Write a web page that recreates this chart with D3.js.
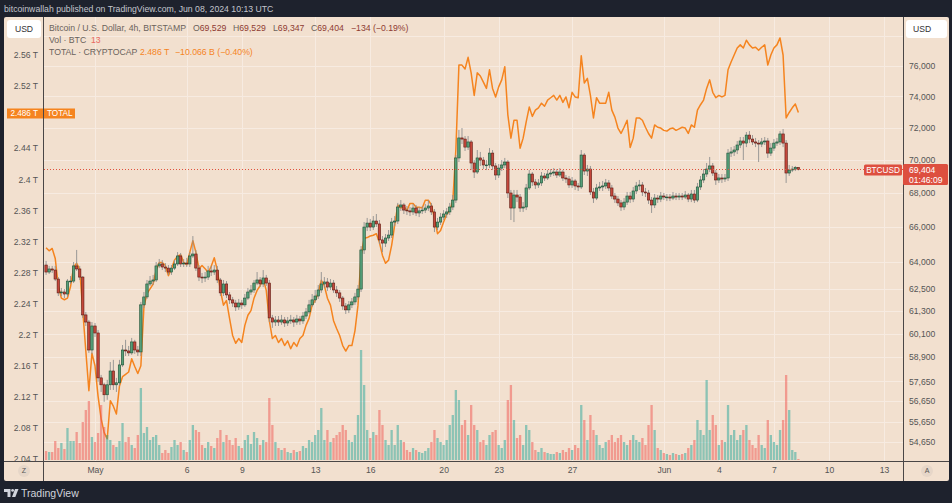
<!DOCTYPE html>
<html><head><meta charset="utf-8">
<script src="https://cdn.jsdelivr.net/npm/d3@7"></script>
<style>
html,body{margin:0;padding:0;background:#1e222d;overflow:hidden;}
svg{display:block;font-family:"Liberation Sans",Arial,sans-serif;}
</style></head><body>
<svg id="c" width="952" height="503"></svg>
<script>
// ---------- DATA ----------
const startTime = Date.UTC(2024, 3, 28, 8); // first 4h candle: Apr 28 08:00 UTC
const candleHours = 4;
const btcOpen0 = 63830;
const btcClose = [
 63440,63610,63550,63050,
 62290,62340,62230,62940,62940,63780,
 63610,63160,61100,60720,59250,60510,
 60140,57820,57470,56970,57470,58170,
 57470,57570,58480,59250,59200,59100,
 59670,59250,59150,61640,62070,62780,
 62940,63000,63780,63890,63720,63660,
 63440,63660,63890,64340,63890,63940,
 63890,64340,64450,63660,63160,63110,
 63160,63500,63440,63550,63000,62290,
 62780,62180,61910,61740,61530,61740,
 61640,62010,62340,62450,62830,63000,
 62780,63110,62830,60940,60720,60830,
 60720,60830,60670,60780,60830,60720,
 60880,60780,61040,61260,61640,61910,
 62120,62450,62780,62890,62610,62830,
 62450,62290,62010,61580,61370,61640,
 61800,62070,62500,64680,65990,66220,
 65990,66340,66170,65250,65070,65360,
 65530,66280,66340,67160,67280,66980,
 66930,66870,67100,66810,66930,66980,
 67100,67220,66870,65990,66280,66570,
 66750,66870,67160,67570,70110,71350,
 71280,70780,71100,69800,69250,70110,
 69980,69680,69680,70410,69620,69070,
 69490,69680,69860,67990,67100,67870,
 67750,67100,67160,68290,69130,68650,
 68470,68590,69010,68890,69130,69190,
 69250,69070,69250,68890,68830,68470,
 68710,68410,68350,70290,69310,69430,
 68050,67690,68290,68350,68410,68590,
 68290,67810,67630,67400,67160,67450,
 67810,67630,68110,68410,68470,68050,
 67990,67570,67280,67690,67630,67810,
 67750,67750,67690,67810,67750,67810,
 67750,67870,67630,67930,67570,68350,
 68770,69130,69430,69620,69190,68770,
 68890,68830,68890,70410,70480,70600,
 70910,71160,71030,71530,71280,71100,
 71030,70970,71100,71160,70410,70720,
 71030,71100,71600,71030,69190,69370,
 69430,69529,69404
];
const btcHigh = [
 64060,63780,63780,63780,
 63160,62560,62500,63050,63220,64000,
 64680,63780,63220,61260,60830,60720,
 60670,60300,57970,57570,57720,58630,
 58740,57820,58740,59510,59780,59460,
 59880,59780,59460,61800,62340,63000,
 63220,63280,64000,64170,64110,63940,
 63830,63830,64110,64560,64510,64170,
 64230,64560,65470,64680,63830,63390,
 63440,63780,63780,63830,63780,63110,
 63000,62940,62340,62070,61910,61960,
 61910,62230,62560,62720,63000,63440,
 63160,63550,63280,63000,61100,61040,
 61040,61100,60990,60990,61100,60990,
 61100,61040,61260,61470,61910,62230,
 62450,62720,63440,63160,63110,63050,
 63000,62670,62450,62120,61740,61850,
 62010,62290,62720,64900,66280,66520,
 66460,66630,66750,66400,65470,65590,
 65820,66520,66630,67400,67570,67400,
 67220,67160,67340,67280,67160,67220,
 67340,67570,67400,67040,66520,66810,
 66980,67100,67400,67870,70290,71850,
 71970,71470,71470,71220,69980,70600,
 70480,70170,69980,70720,70600,69800,
 69740,69980,70110,69980,68170,68170,
 68170,67930,67450,68530,69370,69250,
 68830,68830,69250,69190,69370,69430,
 69490,69430,69490,69370,69070,69010,
 68950,68830,68590,70600,70410,69680,
 69620,68290,68530,68650,68710,68830,
 68770,68470,67990,67810,67570,67690,
 68050,68050,68350,68650,68770,68650,
 68290,68170,67750,67930,67870,68050,
 67990,67930,67930,68050,67990,67990,
 67990,68110,67990,68170,68170,68590,
 69010,69430,69800,70170,69800,69370,
 69130,69130,69130,70660,70780,70850,
 71160,71410,71410,71720,71780,71530,
 71350,71220,71350,71410,71350,71030,
 71280,71350,71780,71910,71220,69680,
 69620,69620,69529
];
const btcLow = [
 63280,63330,63390,62940,
 62120,62120,62010,62070,62780,62830,
 63500,63000,60940,60510,59100,59050,
 59930,57620,57110,56620,56720,57210,
 57210,57110,57420,58380,58940,58940,
 59000,59050,58940,58940,61470,61960,
 62670,62720,62890,63660,63550,63440,
 63280,63280,63550,63780,63720,63720,
 63720,63720,64230,63500,62940,62830,
 62890,63000,63220,63280,62830,62120,
 62120,62010,61690,61530,61310,61370,
 61420,61530,61910,62180,62290,62720,
 62610,62610,62670,60720,60410,60510,
 60510,60570,60460,60510,60620,60460,
 60570,60570,60620,60880,61150,61530,
 61740,61960,62290,62560,62400,62450,
 62290,62070,61800,61370,61150,61200,
 61470,61640,61910,62340,64450,65760,
 65760,65820,65990,65020,64560,64850,
 65190,65360,66050,66170,66930,66750,
 66690,66630,66690,66630,66570,66750,
 66810,66930,66690,65700,65820,66110,
 66400,66520,66690,66980,67400,69860,
 70970,70540,70600,69370,68890,69130,
 69620,69430,69370,69490,69370,68770,
 68890,69310,69490,67690,66400,66280,
 67450,66870,66870,66980,68170,68410,
 68230,68290,68410,68710,68770,68950,
 69010,68890,68950,68710,68590,68290,
 68290,68170,68110,68230,69070,69010,
 67870,67400,67570,68110,68110,68230,
 68110,67630,67400,67220,66930,66980,
 67280,67400,67450,67930,68170,67810,
 67750,67340,66810,67100,67400,67450,
 67570,67510,67510,67570,67570,67570,
 67570,67630,67450,67450,67400,67450,
 68170,68590,68950,69250,69010,68470,
 68590,68590,68650,68710,70170,70230,
 70350,70720,69980,70780,71030,70910,
 70780,69860,70780,70910,70110,70230,
 70540,70850,70910,70780,68590,69010,
 69250,69310,69347
];
const btcVolume = [
 117,104,104,247,
 156,221,143,416,247,247,
 364,221,494,650,767,299,
 234,351,715,429,325,260,
 195,169,247,481,234,299,
 195,156,325,936,351,429,
 260,299,325,195,91,130,
 91,169,260,195,234,130,
 104,260,455,390,364,195,
 156,234,182,156,286,390,
 234,325,260,195,286,182,
 156,260,325,208,364,286,
 195,260,234,806,455,234,
 156,130,156,104,91,130,
 104,117,182,156,260,234,
 325,390,676,260,390,234,
 286,325,364,455,390,260,
 234,325,585,1430,975,390,
 286,364,325,650,455,260,
 195,390,195,455,260,234,
 130,104,156,130,104,91,
 117,156,234,390,286,234,
 195,260,455,585,910,780,
 455,520,325,715,455,390,
 234,260,195,325,364,390,
 195,156,260,780,975,520,
 286,325,195,455,390,234,
 130,104,156,104,91,78,
 78,104,91,130,104,156,
 130,195,156,715,520,260,
 585,390,325,195,156,234,
 260,325,234,286,325,234,
 195,260,325,260,234,286,
 195,455,715,390,156,130,
 91,78,65,91,78,65,
 78,91,156,195,260,520,
 390,325,1040,390,585,455,
 195,260,234,715,325,390,
 260,325,390,455,260,195,
 156,325,195,156,520,325,
 234,195,390,520,1105,650,
 130,104,13
];
// CRYPTOCAP:TOTAL, billions USD
const totalCap = [
 2312,2308,2311,2298,
 2263,2247,2245,2247,2262,2287,
 2292,2284,2231,2179,2128,2176,
 2160,2121,2092,2074,2066,2115,
 2108,2098,2134,2146,2149,2152,
 2169,2159,2150,2160,2236,2253,
 2259,2265,2283,2293,2293,2289,
 2276,2285,2296,2301,2303,2293,
 2290,2306,2321,2306,2285,2289,
 2285,2280,2288,2299,2283,2257,
 2238,2244,2221,2199,2189,2195,
 2190,2212,2225,2231,2247,2257,
 2263,2272,2257,2218,2195,2199,
 2190,2195,2186,2192,2182,2190,
 2185,2195,2199,2212,2221,2238,
 2244,2254,2270,2263,2247,2238,
 2218,2208,2199,2186,2179,2186,
 2186,2205,2238,2302,2324,2325,
 2327,2328,2330,2319,2302,2292,
 2296,2315,2341,2367,2363,2365,
 2360,2369,2369,2364,2364,2363,
 2373,2373,2367,2350,2330,2334,
 2345,2355,2360,2372,2438,2547,
 2547,2542,2557,2537,2508,2537,
 2533,2525,2517,2541,2517,2506,
 2519,2528,2545,2483,2453,2476,
 2476,2440,2453,2474,2493,2481,
 2489,2492,2498,2494,2502,2505,
 2508,2502,2508,2499,2506,2492,
 2512,2506,2505,2559,2524,2530,
 2508,2479,2505,2498,2498,2498,
 2512,2489,2480,2466,2459,2467,
 2476,2441,2453,2479,2479,2476,
 2467,2459,2453,2470,2467,2466,
 2463,2462,2465,2466,2463,2465,
 2467,2466,2459,2470,2467,2489,
 2496,2502,2517,2528,2512,2505,
 2508,2506,2508,2541,2551,2560,
 2569,2573,2569,2579,2573,2569,
 2570,2566,2570,2573,2547,2560,
 2569,2573,2582,2560,2479,2486,
 2492,2497,2486
];
const leftTicks = [2560,2520,2480,2440,2400,2360,2320,2280,2240,2200,2160,2120,2080,2040];
const rightTicks = [78000,76000,74000,72000,70000,68000,66000,64000,62500,61300,60100,58900,57650,56650,55650,54650];
const dateTickDays = ["2024-05-01","2024-05-06","2024-05-09","2024-05-13","2024-05-16","2024-05-20","2024-05-23","2024-05-27","2024-06-01","2024-06-04","2024-06-07","2024-06-10","2024-06-13"];
const dateTickLabels = ["May","6","9","13","16","20","23","27","Jun","4","7","10","13"];
const lastPrice = 69404, lastTotal = 2486;

// ---------- BUILD ----------
const H = candleHours*3600*1000;
const candles = btcClose.map((c,i)=>({
  t:new Date(startTime+i*H), o: i===0?btcOpen0:btcClose[i-1], h:btcHigh[i], l:btcLow[i], c,
  v:btcVolume[i], tot:totalCap[i]}));

const svg = d3.select("#c");
const FONT = "8.6px";
const PL=44, PR=903, PT=17, PB=461;

const x = d3.scaleUtc().domain([new Date(Date.UTC(2024,4,1)), new Date(Date.UTC(2024,5,13))]).range([95,884]);
const yR = d3.scaleLog().domain([64000,76000]).range([262,65.9]);
const yL = d3.scaleLinear().domain([2040,2560]).range([459,55]);
const yV = d3.scaleLinear().domain([0,1495]).range([460,345]);

svg.append("rect").attr("width",952).attr("height",503).attr("fill","#1e222d");
svg.append("text").attr("x",4).attr("y",9).attr("dy","0.35em").attr("fill","#c3c6ce").style("font-size","8.7px")
  .text("bitcoinwallah published on TradingView.com, Jun 08, 2024 10:13 UTC");
svg.append("rect").attr("x",4).attr("y",17).attr("width",945).attr("height",464).attr("rx",2).attr("fill","#f2e0cf");

const defs = svg.append("defs");
defs.append("clipPath").attr("id","plot").append("rect").attr("x",PL).attr("y",PT).attr("width",PR-PL).attr("height",PB-PT);
defs.append("clipPath").attr("id","laxis").append("rect").attr("x",4).attr("y",PT).attr("width",40).attr("height",PB-PT);

// grid
const grid = svg.append("g").attr("clip-path","url(#plot)").attr("stroke","#f7ebe1").attr("stroke-width",1);
grid.selectAll("line.h").data(rightTicks).join("line").attr("x1",PL).attr("x2",PR)
  .attr("y1",d=>Math.round(yR(d))+0.5).attr("y2",d=>Math.round(yR(d))+0.5);
const dateTicks = dateTickDays.map(s=>new Date(s+"T00:00:00Z"));
grid.selectAll("line.v").data(dateTicks).join("line").attr("y1",PT).attr("y2",PB)
  .attr("x1",d=>Math.round(x(d))+0.5).attr("x2",d=>Math.round(x(d))+0.5);

const plot = svg.append("g").attr("clip-path","url(#plot)");
// TOTAL line
plot.append("path").datum(candles).attr("fill","none").attr("stroke","#f5841f").attr("stroke-width",1.5)
  .attr("stroke-linejoin","round").attr("d",d3.line().x(d=>x(d.t)).y(d=>yL(d.tot)));
// volume
const bw = 2.3;
plot.selectAll("rect.vol").data(candles).join("rect")
  .attr("x",d=>x(d.t)-bw/2).attr("width",bw)
  .attr("y",d=>yV(d.v)).attr("height",d=>Math.max(0.6,yV(0)-yV(d.v)))
  .attr("fill",d=>d.c>=d.o?"rgba(38,166,154,0.5)":"rgba(239,83,80,0.5)");
// wicks
plot.selectAll("line.wick").data(candles).join("line")
  .attr("x1",d=>x(d.t)).attr("x2",d=>x(d.t)).attr("y1",d=>yR(d.h)).attr("y2",d=>yR(d.l))
  .attr("stroke","#8f8f8f").attr("stroke-width",0.9);
// bodies
plot.selectAll("rect.body").data(candles).join("rect")
  .attr("x",d=>x(d.t)-1.2).attr("width",2.4)
  .attr("y",d=>yR(Math.max(d.o,d.c))).attr("height",d=>Math.max(0.8,Math.abs(yR(d.o)-yR(d.c))))
  .attr("fill",d=>d.c>=d.o?"#559f78":"#c4473b")
  .attr("stroke",d=>d.c>=d.o?"#1c4f35":"#5e1b13").attr("stroke-width",0.6);
// last price line
plot.append("line").attr("x1",PL).attr("x2",PR).attr("y1",yR(lastPrice)).attr("y2",yR(lastPrice))
  .attr("stroke","#e0533f").attr("stroke-width",1).attr("stroke-dasharray","1,2");

// axes frame
const fr = svg.append("g").attr("stroke","#4a4646").attr("stroke-width",1);
fr.append("line").attr("x1",43.5).attr("x2",43.5).attr("y1",PT).attr("y2",481);
fr.append("line").attr("x1",903.5).attr("x2",903.5).attr("y1",PT).attr("y2",481);
fr.append("line").attr("x1",4).attr("x2",949).attr("y1",461.5).attr("y2",461.5);

function styleAxis(g){ g.select(".domain").remove(); g.selectAll("text").attr("fill","#555").style("font-size",FONT).style("font-family","Liberation Sans, Arial, sans-serif"); }
// the 2.48 T tick sits under the TOTAL last-value label, so it is not printed
const la = svg.append("g").attr("clip-path","url(#laxis)").append("g").attr("transform","translate(38,0)")
  .call(d3.axisLeft(yL).tickValues(leftTicks.filter(v=>Math.abs(yL(v)-yL(lastTotal))>6)).tickSize(0).tickPadding(0).tickFormat(d=>(+(d/1000).toFixed(2))+" T"));
styleAxis(la);
const ra = svg.append("g").attr("transform","translate(909,0)")
  .call(d3.axisRight(yR).tickValues(rightTicks.slice(1)).tickSize(0).tickPadding(0).tickFormat(d3.format(",")));
styleAxis(ra);
const ba = svg.append("g").attr("transform","translate(0,467)")
  .call(d3.axisBottom(x).tickValues(dateTicks).tickSize(0).tickPadding(0).tickFormat((d,i)=>dateTickLabels[i]));
styleAxis(ba);

// USD boxes
svg.append("rect").attr("x",7).attr("y",20).attr("width",34).attr("height",18).attr("rx",3).attr("fill","#ffffff");
svg.append("text").attr("x",24).attr("y",29).attr("dy","0.35em").attr("text-anchor","middle").attr("fill","#333").style("font-size",FONT).text("USD");
svg.append("rect").attr("x",906).attr("y",20).attr("width",41).attr("height",18).attr("rx",3).attr("fill","#ffffff");
svg.append("text").attr("x",913).attr("y",29).attr("dy","0.35em").attr("fill","#333").style("font-size",FONT).text("USD");

// legend
function seg(xp,yp,txt,col){ svg.append("text").attr("x",xp).attr("y",yp).attr("dy","0.35em").attr("fill",col).style("font-size","8.7px").text(txt); }
const g1="#6a625c", dr="#8e3b32";
seg(49,28,"Bitcoin / U.S. Dollar, 4h, BITSTAMP",g1);
[["O",193],["H",233],["L",273],["C",311]].forEach(([l,xp],i)=>{
  const vals=["69,529","69,529","69,347","69,404"];
  const t=svg.append("text").attr("x",xp).attr("y",28).attr("dy","0.35em").style("font-size","8.7px");
  t.append("tspan").attr("fill",g1).text(l); t.append("tspan").attr("fill",dr).text(vals[i]);
});
seg(351,28,"\u2212134 (\u22120.19%)",dr);
seg(49,40,"Vol \u00b7 BTC",g1);
seg(91,40,"13","#e86a62");
seg(49,52,"TOTAL \u00b7 CRYPTOCAP",g1);
seg(140,52,"2.486 T","#f5841f");
seg(175,52,"\u221210.066 B (\u22120.40%)","#f5841f");

// left orange label
const ly = yL(lastTotal);
svg.append("rect").attr("x",7).attr("y",ly-4).attr("width",36).attr("height",10).attr("fill","#f5841f");
svg.append("text").attr("x",38).attr("y",ly+1).attr("dy","0.35em").attr("text-anchor","end").attr("fill","#fff").style("font-size","8.2px").text("2.486 T");
svg.append("rect").attr("x",44).attr("y",ly-4).attr("width",31).attr("height",10).attr("fill","#f5841f");
svg.append("text").attr("x",47).attr("y",ly+1).attr("dy","0.35em").attr("fill","#fff").style("font-size","8.2px").text("TOTAL");

// right red labels
const ry = yR(lastPrice);
svg.append("rect").attr("x",903).attr("y",ry-5.5).attr("width",45).attr("height",21).attr("rx",1.5).attr("fill","#dd4f3f");
svg.append("text").attr("x",909).attr("y",ry).attr("dy","0.35em").attr("fill","#fff").style("font-size",FONT).text("69,404");
svg.append("text").attr("x",909).attr("y",ry+10).attr("dy","0.35em").attr("fill","#fff").style("font-size",FONT).text("01:46:09");
svg.append("rect").attr("x",864).attr("y",ry-5).attr("width",38).attr("height",11).attr("rx",1.5).attr("fill","#dd4f3f");
svg.append("text").attr("x",883).attr("y",ry+0.5).attr("dy","0.35em").attr("text-anchor","middle").attr("fill","#fff").style("font-size","8.2px").text("BTCUSD");

// Z / A buttons
[[24,"Z"],[927,"A"]].forEach(([cx,t])=>{
  svg.append("circle").attr("cx",cx).attr("cy",471).attr("r",6).attr("fill","#e6d6c8");
  svg.append("text").attr("x",cx).attr("y",471).attr("dy","0.35em").attr("text-anchor","middle").attr("fill","#555").style("font-size","7px").text(t);
});

// TradingView logo
const lg = svg.append("g").attr("fill","#d1d4dc");
lg.append("path").attr("d","M4,489h6.5v8h-3v-5h-3.5z");
lg.append("circle").attr("cx",12.6).attr("cy",490.4).attr("r",1.4);
lg.append("path").attr("d","M15,489h3.5l-3.2,8h-3.3z");
svg.append("text").attr("x",21).attr("y",493).attr("dy","0.35em").attr("fill","#d1d4dc").style("font-size","10.5px").text("TradingView");
</script>
</body></html>
